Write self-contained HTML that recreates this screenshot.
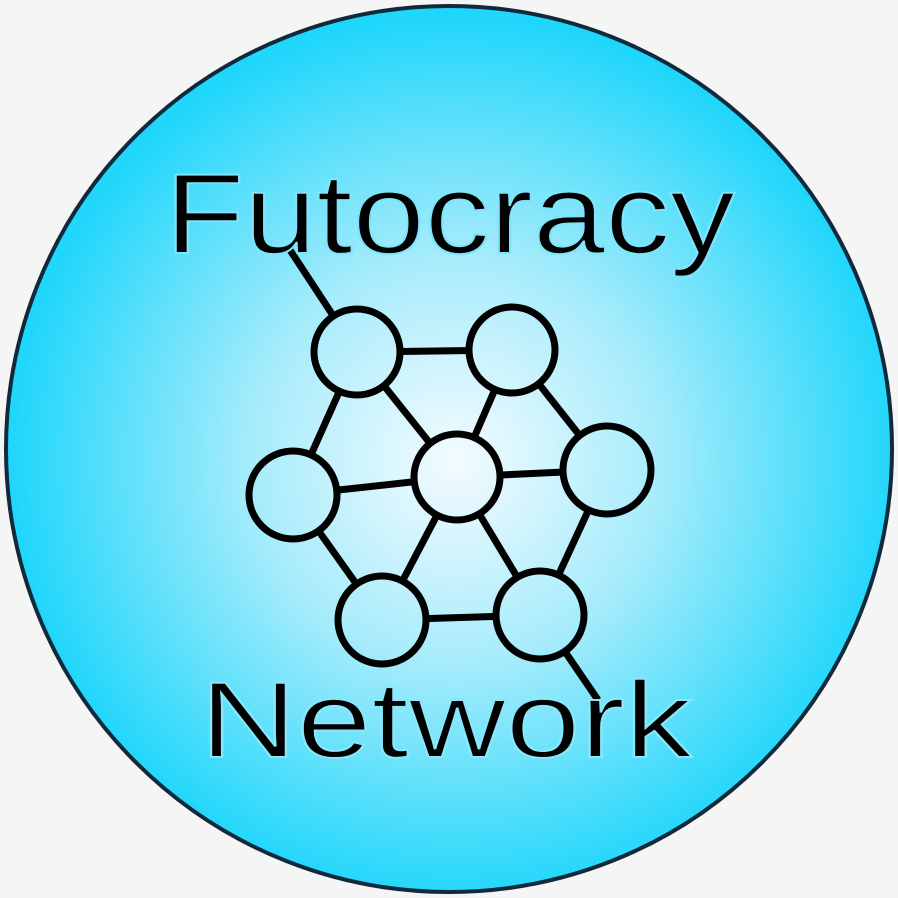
<!DOCTYPE html>
<html><head><style>
html,body{margin:0;padding:0;background:#f5f5f5;}
svg{display:block}
</style></head><body>
<svg width="898" height="898" viewBox="0 0 898 898" xmlns="http://www.w3.org/2000/svg">
<defs>
<radialGradient id="g" cx="455" cy="460" r="445" gradientUnits="userSpaceOnUse">
<stop offset="0" stop-color="#f4fbff"/>
<stop offset="0.45" stop-color="#a8ecfb"/>
<stop offset="1" stop-color="#1fd6fb"/>
</radialGradient>
</defs>
<rect width="898" height="898" fill="#f5f5f5"/>
<circle cx="449" cy="449" r="443" fill="url(#g)" stroke="#102a3c" stroke-width="4"/>
<g stroke="#000" stroke-width="7" fill="none">
<line x1="290" y1="250" x2="357" y2="352"/>
<line x1="540" y1="615" x2="598" y2="700"/>
<line x1="357" y1="352" x2="512" y2="350"/>
<line x1="357" y1="352" x2="457" y2="477"/>
<line x1="357" y1="352" x2="293" y2="495"/>
<line x1="512" y1="350" x2="457" y2="477"/>
<line x1="512" y1="350" x2="607" y2="470"/>
<line x1="293" y1="495" x2="457" y2="477"/>
<line x1="457" y1="477" x2="607" y2="470"/>
<line x1="293" y1="495" x2="382" y2="620"/>
<line x1="457" y1="477" x2="382" y2="620"/>
<line x1="457" y1="477" x2="540" y2="615"/>
<line x1="607" y1="470" x2="540" y2="615"/>
<line x1="382" y1="620" x2="540" y2="615"/>
</g>
<g stroke="#000" stroke-width="7" fill="url(#g)">
<circle cx="357" cy="352" r="43"/>
<circle cx="512" cy="350" r="43"/>
<circle cx="293" cy="495" r="44"/>
<circle cx="457" cy="477" r="43"/>
<circle cx="607" cy="470" r="44"/>
<circle cx="382" cy="620" r="44"/>
<circle cx="540" cy="615" r="44"/>
</g>
<text x="165" y="253" font-family="Liberation Sans, sans-serif" font-size="114" textLength="570" lengthAdjust="spacingAndGlyphs" fill="#000" stroke="#7fe4fb" stroke-width="2">Futocracy</text>
<text x="200" y="757" font-family="Liberation Sans, sans-serif" font-size="108" textLength="492" lengthAdjust="spacingAndGlyphs" fill="#000" stroke="#8ae6fb" stroke-width="2">Network</text>
</svg>
</body></html>
